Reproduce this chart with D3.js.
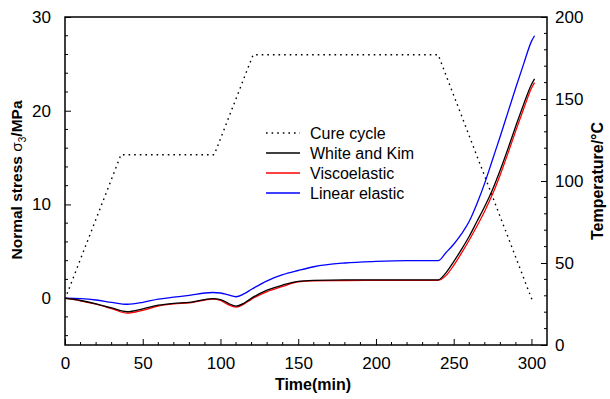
<!DOCTYPE html>
<html><head><meta charset="utf-8">
<script src="https://cdn.jsdelivr.net/npm/d3@7"></script>
<style>
body{margin:0;background:#fff;}
text{font-family:"Liberation Sans",Arial,sans-serif;}
</style></head>
<body><svg id="c" width="610" height="399"></svg>
<script>
// ---- data ----
const cureTime = [0, 36, 96, 121, 240, 301];
const cureTemp = [28, 116, 116, 177, 177, 26];

const stressTime = [0,10,20,30,40,50,60,70,80,90,95,100,105,110,115,120,130,140,150,160,180,200,220,240,245,250,255,260,265,270,275,280,285,290,295,300,302];
const whiteKim = [0,-0.25,-0.6,-1.05,-1.45,-1.15,-0.75,-0.55,-0.45,-0.15,-0.05,-0.15,-0.55,-0.85,-0.55,0.0,0.85,1.4,1.8,1.9,1.95,1.95,1.95,1.95,2.7,3.9,5.2,6.6,8.2,9.8,11.6,13.7,16.0,18.4,20.7,22.8,23.4];
const viscoelastic = [0,-0.28,-0.65,-1.12,-1.6,-1.3,-0.85,-0.62,-0.5,-0.2,-0.1,-0.25,-0.7,-0.95,-0.65,-0.1,0.7,1.25,1.75,1.85,1.88,1.9,1.9,1.9,2.4,3.5,4.8,6.2,7.7,9.3,11.1,13.2,15.5,17.9,20.2,22.4,23.0];
const linearElastic = [0,-0.05,-0.2,-0.45,-0.65,-0.45,-0.1,0.1,0.3,0.55,0.6,0.55,0.35,0.15,0.45,0.95,1.85,2.5,2.95,3.35,3.75,3.92,4.0,4.0,4.85,5.75,6.85,8.2,10.1,12.3,14.8,17.3,19.9,22.5,25.0,27.4,28.0];

const xTicks = [0,50,100,150,200,250,300];
const yLeftTicks = [0,10,20,30];
const yRightTicks = [0,50,100,150,200];
const legendLabels = ["Cure cycle","White and Kim","Viscoelastic","Linear elastic"];

// ---- layout ----
const L = 65, R = 547, T = 17, B = 345;
const svg = d3.select("#c");
const x = d3.scaleLinear().domain([0,310]).range([L,R]);
const yL = d3.scaleLinear().domain([-5,30]).range([B,T]);
const yR = d3.scaleLinear().domain([0,200]).range([B,T]);
const TICKFONT = "17px";

// bottom axis
const gx = svg.append("g").attr("transform",`translate(0,${B})`)
  .call(d3.axisBottom(x).tickValues(xTicks).tickSizeInner(-6).tickSizeOuter(0).tickPadding(12));
gx.select(".domain").remove();
gx.selectAll("text").style("font-size",TICKFONT);
gx.append("g").selectAll("line").data(d3.range(10,310,10).filter(d=>d%50)).join("line")
  .attr("x1",d=>x(d)).attr("x2",d=>x(d)).attr("y1",0).attr("y2",-3).attr("stroke","#000");

// left axis
const gl = svg.append("g").attr("transform",`translate(${L},0)`)
  .call(d3.axisLeft(yL).tickValues(yLeftTicks).tickSizeInner(-6).tickSizeOuter(0).tickPadding(14));
gl.select(".domain").remove();
gl.selectAll("text").style("font-size",TICKFONT);
gl.append("g").selectAll("line").data(d3.range(-4,30,2).filter(d=>d%10)).join("line")
  .attr("y1",d=>yL(d)).attr("y2",d=>yL(d)).attr("x1",0).attr("x2",3).attr("stroke","#000");

// right axis
const gr = svg.append("g").attr("transform",`translate(${R},0)`)
  .call(d3.axisRight(yR).tickValues(yRightTicks).tickSizeInner(-6).tickSizeOuter(0).tickPadding(8));
gr.select(".domain").remove();
gr.selectAll("text").style("font-size",TICKFONT);
gr.append("g").selectAll("line").data(d3.range(10,200,10).filter(d=>d%50)).join("line")
  .attr("y1",d=>yR(d)).attr("y2",d=>yR(d)).attr("x1",0).attr("x2",-3).attr("stroke","#000");

// frame
svg.append("rect").attr("x",L).attr("y",T).attr("width",R-L).attr("height",B-T)
  .attr("fill","none").attr("stroke","#000").attr("stroke-width",1.5);

// clip
svg.append("clipPath").attr("id","clip").append("rect").attr("x",L).attr("y",T).attr("width",R-L).attr("height",B-T);
const plot = svg.append("g").attr("clip-path","url(#clip)");

// cure cycle
const cureLine = d3.line().x((d,i)=>x(cureTime[i])).y(d=>yR(d));
plot.append("path").attr("d",cureLine(cureTemp)).attr("fill","none")
  .attr("stroke","#000").attr("stroke-width",1.4).attr("stroke-dasharray","1.6,4");

const sLine = d3.line().x((d,i)=>x(stressTime[i])).y(d=>yL(d)).curve(d3.curveMonotoneX);
[[linearElastic,"#0000ff"],[viscoelastic,"#ff0000"],[whiteKim,"#000000"]].forEach(([arr,c])=>{
  plot.append("path").attr("d",sLine(arr)).attr("fill","none").attr("stroke",c).attr("stroke-width",1.3);
});

// legend
const legColors = ["#000","#000","#ff0000","#0000ff"];
const legY = [133, 153, 173, 193];
legendLabels.forEach((lab,i)=>{
  const ln = svg.append("line").attr("x1",266).attr("x2",300).attr("y1",legY[i]).attr("y2",legY[i])
    .attr("stroke",legColors[i]).attr("stroke-width",1.3);
  if(i===0) ln.attr("stroke-dasharray","1.6,4").attr("stroke-width",1.4);
  svg.append("text").attr("x",310).attr("y",legY[i]+5.5).style("font-size","16px").text(lab);
});

// titles
svg.append("text").attr("x",(L+R)/2+7).attr("y",390).attr("text-anchor","middle")
  .style("font-size","16px").style("font-weight","bold").text("Time(min)");
const yt = svg.append("text").attr("transform","translate(22,180) rotate(-90)").attr("text-anchor","middle")
  .style("font-size","15.5px").style("font-weight","bold");
yt.append("tspan").text("Normal stress ");
yt.append("tspan").style("font-weight","normal").text("\u03c3");
yt.append("tspan").attr("dy",4).style("font-size","10px").style("font-weight","normal").text("3");
yt.append("tspan").attr("dy",-4).text("/MPa");
svg.append("text").attr("transform","translate(603,181) rotate(-90)").attr("text-anchor","middle")
  .style("font-size","16px").style("font-weight","bold").text("Temperature/\u00b0C");
</script></body></html>
